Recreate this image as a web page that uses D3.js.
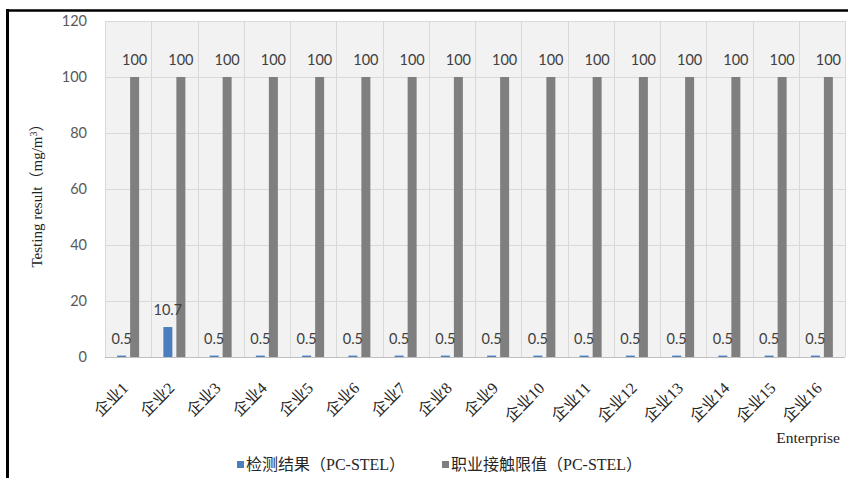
<!DOCTYPE html>
<html>
<head>
<meta charset="utf-8">
<script src="https://cdn.jsdelivr.net/npm/d3@7"></script>
<style>
  html, body { margin: 0; padding: 0; background: #fff; }
  svg { display: block; }
  .serif { font-family: "Liberation Serif", "Times New Roman", "DejaVu Serif", "Noto Sans CJK SC", serif; }
  .sans { font-family: Lato, "Open Sans", sans-serif; }
</style>
</head>
<body>
<svg id="chart" width="848" height="478"></svg>
<script>
const categories = ["企业1","企业2","企业3","企业4","企业5","企业6","企业7","企业8","企业9","企业10","企业11","企业12","企业13","企业14","企业15","企业16"];
const seriesNames = ["检测结果（PC-STEL）", "职业接触限值（PC-STEL）"];
const measured = [0.5, 10.7, 0.5, 0.5, 0.5, 0.5, 0.5, 0.5, 0.5, 0.5, 0.5, 0.5, 0.5, 0.5, 0.5, 0.5];
const limitValues = [100, 100, 100, 100, 100, 100, 100, 100, 100, 100, 100, 100, 100, 100, 100, 100];
const yTicks = [0, 20, 40, 60, 80, 100, 120];
const colors = ["#4a7ebf", "#7f7f7f"];

const W = 848, H = 478;
const margin = {left: 105, right: 3, top: 21, bottom: 121};
const svg = d3.select("#chart");

// outer frame (partial black border)
svg.append("line").attr("x1", 6).attr("x2", W).attr("y1", 10.5).attr("y2", 10.5)
  .attr("stroke", "#000").attr("stroke-width", 2.5);
svg.append("line").attr("x1", 7.5).attr("x2", 7.5).attr("y1", 9).attr("y2", H)
  .attr("stroke", "#000").attr("stroke-width", 3);

const x = d3.scaleBand().domain(categories).range([margin.left, W - margin.right]).padding(0);
const y = d3.scaleLinear().domain([0, 120]).range([H - margin.bottom, margin.top]);
const inner = d3.scaleBand().domain(seriesNames).range([-11, 11]).paddingInner(4 / 13).paddingOuter(0);

const g = svg.append("g");

// plot background
g.append("rect").attr("x", x.range()[0]).attr("y", y(120))
  .attr("width", x.range()[1] - x.range()[0]).attr("height", y(0) - y(120))
  .attr("fill", "#f2f2f2");

// horizontal grid
g.selectAll(".hgrid").data(yTicks).join("line")
  .attr("x1", x.range()[0]).attr("x2", x.range()[1])
  .attr("y1", d => Math.round(y(d)) + 0.5).attr("y2", d => Math.round(y(d)) + 0.5)
  .attr("stroke", d => d === 0 ? "#bfbfbf" : "#d9d9d9").attr("stroke-width", 1);

// vertical grid at category boundaries
const bounds = categories.map(c => x(c)).concat([x.range()[1]]);
g.selectAll(".vgrid").data(bounds).join("line")
  .attr("x1", d => Math.round(d) + 0.5).attr("x2", d => Math.round(d) + 0.5)
  .attr("y1", y(120)).attr("y2", y(0))
  .attr("stroke", "#d9d9d9").attr("stroke-width", 1);

// y tick labels
g.selectAll(".ytick").data(yTicks).join("text")
  .attr("class", "sans")
  .attr("x", margin.left - 18).attr("y", d => y(d))
  .attr("dy", "0.35em").attr("text-anchor", "end")
  .attr("font-size", 14.5)
  .attr("fill", "#595959").text(d => d);

// bars
const seriesData = [measured, limitValues];
seriesData.forEach((vals, si) => {
  const name = seriesNames[si];
  g.selectAll(".bar" + si).data(vals).join("rect")
    .attr("class", "bar" + si)
    .attr("x", (d, i) => x(categories[i]) + x.bandwidth() / 2 + inner(name))
    .attr("width", inner.bandwidth())
    .attr("y", d => y(d))
    .attr("height", d => y(0) - y(d))
    .attr("fill", colors[si]);
});
// data labels on top of all bars
seriesData.forEach((vals, si) => {
  const name = seriesNames[si];
  g.selectAll(".lab" + si).data(vals).join("text")
    .attr("class", "sans lab" + si)
    .attr("x", (d, i) => x(categories[i]) + x.bandwidth() / 2 + inner(name) + inner.bandwidth() / 2)
    .attr("y", d => y(d) - 12)
    .attr("text-anchor", "middle")
    .attr("font-size", 14.5)
    .attr("fill", "#404040").text(d => d);
});

// x tick labels (rotated)
g.selectAll(".xtick").data(categories).join("text")
  .attr("class", "serif xtick")
  .attr("transform", d => `translate(${x(d) + x.bandwidth() / 2 + 1},${y(0) + 32}) rotate(-45)`)
  .attr("text-anchor", "end")
  .attr("font-size", 16)
  .attr("fill", "#262626").text(d => d);

// y axis title
const yt = svg.append("text")
  .attr("class", "serif")
  .attr("transform", `translate(42,192) rotate(-90)`)
  .attr("text-anchor", "middle")
  .attr("font-size", 15)
  .attr("fill", "#222");
yt.append("tspan").text("Testing result（mg/m");
yt.append("tspan").attr("font-size", 10).attr("dy", -5).text("3");
yt.append("tspan").attr("dy", 5).text("）");

// x axis title
svg.append("text").attr("class", "serif").attr("x", 840).attr("y", 443).attr("text-anchor", "end")
  .attr("font-size", 15.5)
  .attr("fill", "#222").text("Enterprise");

// legend
const legendX = [237, 442];
seriesNames.forEach((name, i) => {
  svg.append("rect").attr("x", legendX[i]).attr("y", 461).attr("width", 7).attr("height", 7)
    .attr("fill", colors[i]);
  svg.append("text").attr("class", "serif").attr("x", legendX[i] + 9).attr("y", 470)
    .attr("font-size", 16)
    .attr("fill", "#262626").text(name);
});
</script>
</body>
</html>
